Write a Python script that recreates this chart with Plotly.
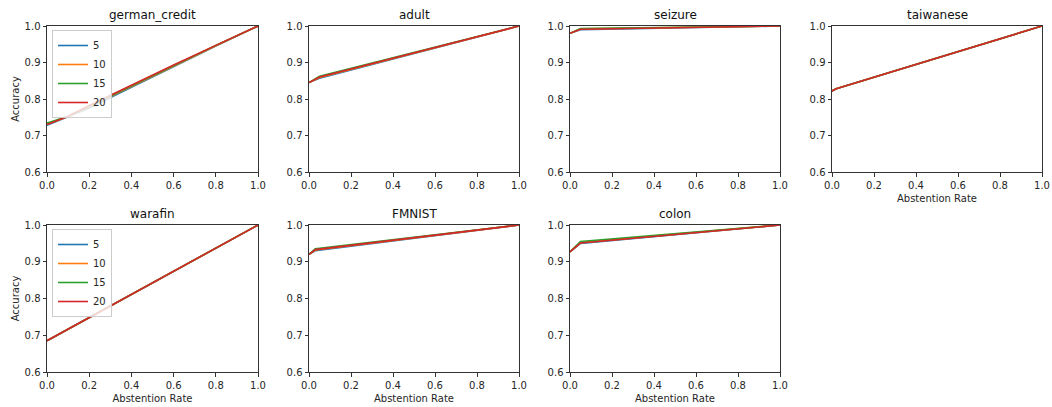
import plotly.graph_objects as go

series = ["5", "10", "15", "20"]
colors = ["#1f77b4", "#ff7f0e", "#2ca02c", "#d62728"]

datasets = ["german_credit", "adult", "seizure", "taiwanese", "warafin", "FMNIST", "colon"]

german_x = [0.0, 0.1, 0.2, 0.4, 0.6, 0.8, 1.0]
german_y = {
    "5": [0.728, 0.752, 0.775, 0.832, 0.889, 0.945, 1.0],
    "10": [0.731, 0.752, 0.779, 0.835, 0.891, 0.946, 1.0],
    "15": [0.734, 0.753, 0.780, 0.836, 0.892, 0.947, 1.0],
    "20": [0.730, 0.753, 0.782, 0.838, 0.893, 0.947, 1.0],
}
adult_x = [0.0, 0.05, 1.0]
adult_y = {
    "5": [0.845, 0.857, 1.0],
    "10": [0.845, 0.859, 1.0],
    "15": [0.845, 0.862, 1.0],
    "20": [0.845, 0.860, 1.0],
}
seizure_x = [0.0, 0.05, 1.0]
seizure_y = {
    "5": [0.980, 0.990, 1.0],
    "10": [0.980, 0.992, 1.0],
    "15": [0.980, 0.993, 1.0],
    "20": [0.980, 0.991, 1.0],
}
taiwanese_x = [0.0, 0.02, 1.0]
taiwanese_y = {
    "5": [0.822, 0.828, 1.0],
    "10": [0.822, 0.828, 1.0],
    "15": [0.822, 0.828, 1.0],
    "20": [0.822, 0.828, 1.0],
}
warafin_x = [0.0, 1.0]
warafin_y = {
    "5": [0.685, 1.0],
    "10": [0.685, 1.0],
    "15": [0.685, 1.0],
    "20": [0.685, 1.0],
}
fmnist_x = [0.0, 0.03, 1.0]
fmnist_y = {
    "5": [0.920, 0.930, 1.0],
    "10": [0.920, 0.932, 1.0],
    "15": [0.920, 0.935, 1.0],
    "20": [0.920, 0.933, 1.0],
}
colon_x = [0.0, 0.05, 1.0]
colon_y = {
    "5": [0.927, 0.950, 1.0],
    "10": [0.927, 0.952, 1.0],
    "15": [0.927, 0.955, 1.0],
    "20": [0.927, 0.951, 1.0],
}

xs = [german_x, adult_x, seizure_x, taiwanese_x, warafin_x, fmnist_x, colon_x]
ys = [german_y, adult_y, seizure_y, taiwanese_y, warafin_y, fmnist_y, colon_y]

W, H = 1052, 407
col_px = [(47, 258), (309, 519), (570, 780), (832, 1042)]
row_px = [(26, 172), (225, 372)]

fig = go.Figure()
FONT = "DejaVu Sans"
TICKC = "#262626"

for i, name in enumerate(datasets):
    r, c = divmod(i, 4)
    ax = "" if i == 0 else str(i + 1)
    xd = [col_px[c][0] / W, col_px[c][1] / W]
    yd = [1 - row_px[r][1] / H, 1 - row_px[r][0] / H]
    for s, col in zip(series, colors):
        show = i in (0, 4)
        fig.add_trace(go.Scatter(
            x=xs[i], y=ys[i][s], mode="lines", name=s,
            line=dict(color=col, width=1.6),
            xaxis="x" + ax, yaxis="y" + ax,
            showlegend=show,
            legend="legend" if i == 0 else ("legend2" if i == 4 else None),
        ))
    common = dict(showgrid=False, zeroline=False, showline=True, linecolor="#333333",
                  linewidth=1, mirror=True, ticks="outside", ticklen=3.5, tickwidth=0.8,
                  tickcolor="#333333", automargin=False,
                  tickfont=dict(family=FONT, size=10, color=TICKC))
    fig.layout["xaxis" + ax] = dict(domain=xd, anchor="y" + ax, range=[0, 1],
                                    tickvals=[0, 0.2, 0.4, 0.6, 0.8, 1.0], tickformat=".1f",
                                    title=dict(text="Abstention Rate" if (r == 1 or i == 3) else "",
                                               font=dict(family=FONT, size=10, color=TICKC), standoff=5),
                                    **common)
    fig.layout["yaxis" + ax] = dict(domain=yd, anchor="x" + ax, range=[0.6, 1.0],
                                    tickvals=[0.6, 0.7, 0.8, 0.9, 1.0], tickformat=".1f",
                                    title=dict(text="Accuracy" if c == 0 else "",
                                               font=dict(family=FONT, size=10, color=TICKC), standoff=3),
                                    **common)
    fig.add_annotation(text=name, xref="paper", yref="paper",
                       x=(xd[0] + xd[1]) / 2, y=yd[1], xanchor="center", yanchor="bottom",
                       yshift=2, showarrow=False, font=dict(family=FONT, size=12, color="#111111"))

leg = dict(bgcolor="rgba(255,255,255,0.8)", bordercolor="#cccccc", borderwidth=1,
           font=dict(family=FONT, size=10, color=TICKC), xanchor="left", yanchor="top",
           itemwidth=30, tracegroupgap=0)
fig.update_layout(
    width=W, height=H, margin=dict(l=0, r=0, t=0, b=0),
    plot_bgcolor="white", paper_bgcolor="white",
    legend=dict(x=52 / W, y=1 - 30 / H, **leg),
    legend2=dict(x=52 / W, y=1 - 229 / H, **leg),
)

fig.write_html("out.html")
